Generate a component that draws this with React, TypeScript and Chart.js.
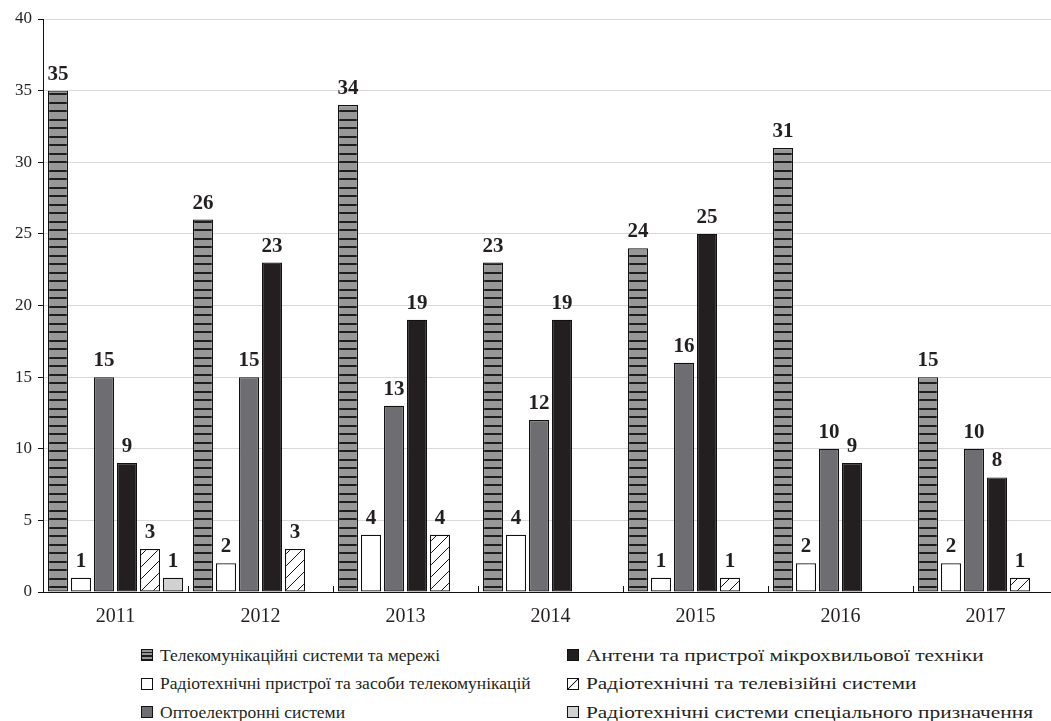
import React, { useEffect, useRef } from "react";
import { Chart, registerables } from "chart.js";

Chart.register(...registerables);

const years = ["2011", "2012", "2013", "2014", "2015", "2016", "2017"];
const seriesNames = [
  "Телекомунікаційні системи та мережі",
  "Радіотехнічні пристрої та засоби телекомунікацій",
  "Оптоелектронні системи",
  "Антени та пристрої мікрохвильової техніки",
  "Радіотехнічні та телевізійні системи",
  "Радіотехнічні системи спеціального призначення",
];
const telecom = [35, 26, 34, 23, 24, 31, 15];
const radioDevices = [1, 2, 4, 4, 1, 2, 2];
const opto = [15, 15, 13, 12, 16, 10, 10];
const antennas = [9, 23, 19, 19, 25, 9, 8];
const radioTv = [3, 3, 4, 0, 1, 0, 1];
const special = [1, 0, 0, 0, 0, 0, 0];
const yMin = 0;
const yMax = 40;
const yStep = 5;

const FONT = "'Liberation Serif', 'Times New Roman', serif";
const INK = "#231f20";

function stripePattern(ctx: CanvasRenderingContext2D) {
  const c = document.createElement("canvas");
  c.width = 4;
  c.height = 17;
  const g = c.getContext("2d")!;
  g.fillStyle = "#979797";
  g.fillRect(0, 0, 4, 17);
  g.fillStyle = "#1e1e1e";
  g.fillRect(0, 0, 4, 2);
  g.fillRect(0, 8, 4, 2);
  return ctx.createPattern(c, "repeat")!;
}

function hatchPattern(ctx: CanvasRenderingContext2D) {
  const s = 12;
  const c = document.createElement("canvas");
  c.width = s;
  c.height = s;
  const g = c.getContext("2d")!;
  g.fillStyle = "#ffffff";
  g.fillRect(0, 0, s, s);
  g.strokeStyle = "#111";
  g.lineWidth = 1;
  g.beginPath();
  g.moveTo(-1, s + 1);
  g.lineTo(s + 1, -1);
  g.moveTo(-1, 1);
  g.lineTo(1, -1);
  g.moveTo(s - 1, s + 1);
  g.lineTo(s + 1, s - 1);
  g.stroke();
  return ctx.createPattern(c, "repeat")!;
}

const valueLabels = {
  id: "valueLabels",
  afterDatasetsDraw(chart: any) {
    const ctx = chart.ctx;
    ctx.save();
    ctx.font = `bold 21px ${FONT}`;
    ctx.fillStyle = INK;
    ctx.textAlign = "center";
    ctx.textBaseline = "alphabetic";
    chart.data.datasets.forEach((ds: any, di: number) => {
      const meta = chart.getDatasetMeta(di);
      meta.data.forEach((el: any, i: number) => {
        const v = ds.data[i];
        if (v === null || v === undefined || v === 0) return;
        ctx.fillText(String(v), el.x, el.y - 11);
      });
    });
    ctx.restore();
  },
};

const legendRows: [number, number][] = [
  [0, 3],
  [1, 4],
  [2, 5],
];

function Marker({ idx }: { idx: number }) {
  const base: React.CSSProperties = {
    width: 12,
    height: 12,
    border: "1px solid #111",
    boxSizing: "border-box",
    flex: "0 0 auto",
    marginRight: 7,
  };
  const bgs: React.CSSProperties[] = [
    { background: "repeating-linear-gradient(to bottom, #979797 0px, #979797 2px, #1e1e1e 2px, #1e1e1e 3.3px)" },
    { background: "#ffffff" },
    { background: "#6e6e72" },
    { background: "#231f20" },
    {
      background:
        "linear-gradient(to bottom right, #fff calc(50% - 0.8px), #111 50%, #fff calc(50% + 0.8px))",
    },
    { background: "#d1d1d1" },
  ];
  return <div style={{ ...base, ...bgs[idx] }} />;
}

export default function App() {
  const ref = useRef<HTMLCanvasElement | null>(null);

  useEffect(() => {
    const canvas = ref.current!;
    const ctx = canvas.getContext("2d")!;
    const stripes = stripePattern(ctx);
    const hatch = hatchPattern(ctx);
    const fills: any[] = [stripes, "#ffffff", "#6e6e72", "#231f20", hatch, "#d1d1d1"];
    const values = [telecom, radioDevices, opto, antennas, radioTv, special];

    const chart = new Chart(canvas, {
      type: "bar",
      data: {
        labels: years,
        datasets: values.map((arr, i) => ({
          label: seriesNames[i],
          data: arr.map((v) => (v === 0 ? null : v)),
          backgroundColor: fills[i],
          borderColor: "#111111",
          borderWidth: 1.2,
          borderSkipped: false,
          categoryPercentage: 0.952,
          barPercentage: 0.87,
        })),
      },
      options: {
        animation: false,
        responsive: true,
        maintainAspectRatio: false,
        layout: { padding: { top: 19, right: 2, left: 0, bottom: 0 } },
        plugins: {
          legend: { display: false },
          tooltip: { enabled: false },
        },
        scales: {
          x: {
            offset: true,
            grid: {
              offset: true,
              drawOnChartArea: false,
              drawTicks: true,
              tickLength: -6,
              color: "#111",
              lineWidth: 1,
            },
            border: { display: true, color: "#111", width: 1 },
            ticks: {
              color: INK,
              font: { family: FONT, size: 20 },
              padding: 19,
            },
            afterFit: (s: any) => {
              s.height = 40;
            },
          },
          y: {
            min: yMin,
            max: yMax,
            ticks: {
              stepSize: yStep,
              color: INK,
              font: { family: FONT, size: 17 },
              padding: 6,
            },
            grid: {
              color: (c: any) => (c.tick && c.tick.value === 0 ? "#111" : "#d9d9d9"),
              tickColor: "#111",
              tickLength: 5,
              lineWidth: 1,
            },
            border: { display: true, color: "#111", width: 1 },
            afterFit: (s: any) => {
              s.width = 43;
            },
          },
        },
      },
      plugins: [valueLabels],
    });
    return () => chart.destroy();
  }, []);

  return (
    <div
      style={{
        position: "absolute",
        left: 0,
        top: 0,
        width: 1051,
        height: 721,
        overflow: "hidden",
        background: "#fff",
        fontFamily: FONT,
      }}
    >
      <div style={{ position: "absolute", left: 0, top: 0, width: 1060, height: 632 }}>
        <canvas ref={ref} />
      </div>
      {legendRows.map(([a, b], r) => (
        <React.Fragment key={r}>
          {[a, b].map((idx, col) => (
            <div
              key={idx}
              style={{
                position: "absolute",
                left: col === 0 ? 141 : 567,
                top: 645 + r * 28.5,
                height: 20,
                display: "flex",
                alignItems: "center",
                fontSize: 17.5,
                color: INK,
                whiteSpace: "nowrap",
              }}
            >
              <Marker idx={idx} />
              <span
                style={{
                  display: "inline-block",
                  transform: col === 0 ? "none" : "scaleX(1.22)",
                  transformOrigin: "left center",
                }}
              >
                {seriesNames[idx]}
              </span>
            </div>
          ))}
        </React.Fragment>
      ))}
    </div>
  );
}
